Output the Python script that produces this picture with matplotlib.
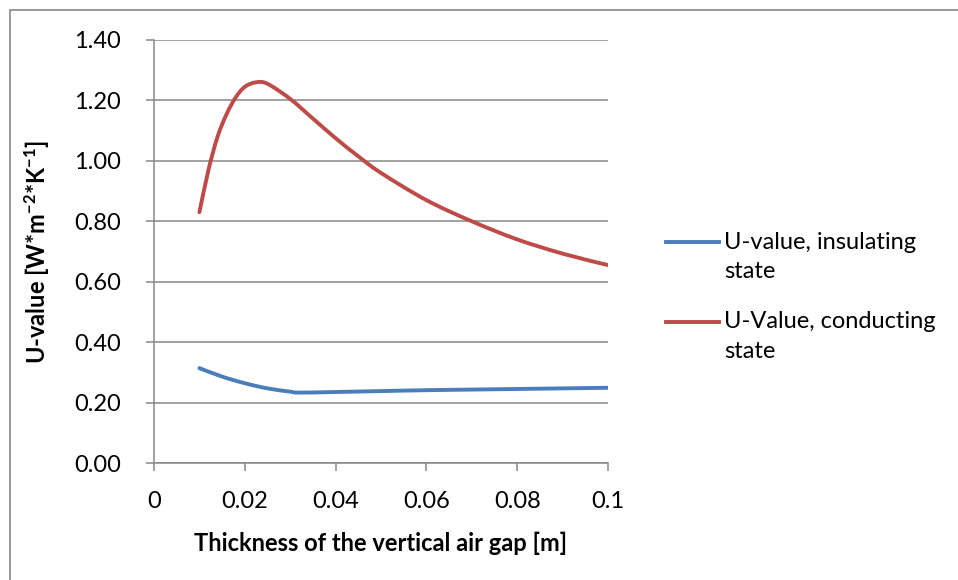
import numpy as np
import matplotlib.pyplot as plt
from matplotlib.lines import Line2D
from matplotlib.patches import Rectangle, PathPatch
from matplotlib.path import Path

plt.rcParams['font.family'] = ['Lato', 'DejaVu Sans']
plt.rcParams['mathtext.fontset'] = 'custom'
plt.rcParams['mathtext.rm'] = 'Lato'
plt.rcParams['mathtext.bf'] = 'Lato:bold'

# air gap thickness [m]
gap_ins = [0.010, 0.015, 0.020, 0.025, 0.030, 0.032, 0.040, 0.050, 0.060, 0.070, 0.080, 0.090, 0.100]
u_ins = [0.314, 0.286, 0.264, 0.247, 0.236, 0.233, 0.235, 0.238, 0.241, 0.243, 0.245, 0.247, 0.249]

gap_con = [0.010, 0.012, 0.014, 0.016, 0.018, 0.020, 0.0225, 0.025, 0.030, 0.035, 0.040,
           0.045, 0.050, 0.060, 0.070, 0.080, 0.090, 0.100]
u_con = [0.83, 0.97, 1.08, 1.155, 1.21, 1.245, 1.260, 1.255, 1.205, 1.14, 1.075,
         1.015, 0.96, 0.870, 0.800, 0.740, 0.693, 0.655]

labels = ['U-value, insulating\nstate', 'U-Value, conducting\nstate']
colors = ['#4a7ebb', '#be4b48']

FS = 17


def smooth_path(x, y):
    # excel-like smoothed line: bezier segments through the points
    x = np.asarray(x, float)
    y = np.asarray(y, float)
    verts = [(x[0], y[0])]
    codes = [Path.MOVETO]
    n = len(x)
    for i in range(n - 1):
        p0 = (x[max(i - 1, 0)], y[max(i - 1, 0)])
        p1 = (x[i], y[i])
        p2 = (x[i + 1], y[i + 1])
        p3 = (x[min(i + 2, n - 1)], y[min(i + 2, n - 1)])
        c1 = (p1[0] + (p2[0] - p0[0]) / 6, p1[1] + (p2[1] - p0[1]) / 6)
        c2 = (p2[0] - (p3[0] - p1[0]) / 6, p2[1] - (p3[1] - p1[1]) / 6)
        verts += [c1, c2, p2]
        codes += [Path.CURVE4] * 3
    return Path(verts, codes)


fig = plt.figure(figsize=(9.58, 5.8), dpi=100)
ax = fig.add_axes([154/958, 1 - 463/580, 454/958, 423/580])

for gx, uy, c in [(gap_ins, u_ins, colors[0]), (gap_con, u_con, colors[1])]:
    ax.add_patch(PathPatch(smooth_path(gx, uy), fill=False, edgecolor=c, lw=2.8,
                           capstyle='round', joinstyle='round'))

ax.set_xlim(0, 0.1)
ax.set_ylim(0, 1.4)
ax.set_xticks([0, 0.02, 0.04, 0.06, 0.08, 0.1])
ax.set_xticklabels(['0', '0.02', '0.04', '0.06', '0.08', '0.1'])
ax.set_yticks([0.2 * i for i in range(8)])
ax.set_yticklabels(['%.2f' % (0.2 * i) for i in range(8)])
ax.grid(axis='y', color='#878787', lw=1.1)
ax.set_axisbelow(True)
for s in ['top', 'right']:
    ax.spines[s].set_visible(False)
for s in ['left', 'bottom']:
    ax.spines[s].set_color('#878787')
    ax.spines[s].set_linewidth(1.1)
ax.tick_params(axis='both', colors='#878787', length=6, width=1.1, labelsize=FS,
               labelcolor='black')
ax.tick_params(axis='x', pad=14)
ax.tick_params(axis='y', pad=18)

ax.set_xlabel('Thickness of the vertical air gap [m]', fontsize=FS, fontweight='bold', labelpad=14)
ax.set_ylabel(r'U-value [W*m$\mathbf{^{-2}}$*K$\mathbf{^{-1}}$]', fontsize=FS,
              fontweight='bold', labelpad=16)

# legend drawn by hand, line aligned with first text row
for i, (lab, c) in enumerate(zip(labels, colors)):
    y = 1 - (242 + 80 * i) / 580
    fig.add_artist(Line2D([666/958, 719/958], [y, y], color=c, lw=2.8,
                          transform=fig.transFigure))
    for j, row in enumerate(lab.split('\n')):
        fig.text(724/958, y - j * 30/580, row, fontsize=FS, va='center', ha='left')

# outer chart frame
fig.add_artist(Rectangle((10/958, -0.1), 1.1, 1 - 10/580 + 0.1, fill=False,
                         edgecolor='#878787', lw=1.2, transform=fig.transFigure))

fig.savefig('out.png', dpi=100)
